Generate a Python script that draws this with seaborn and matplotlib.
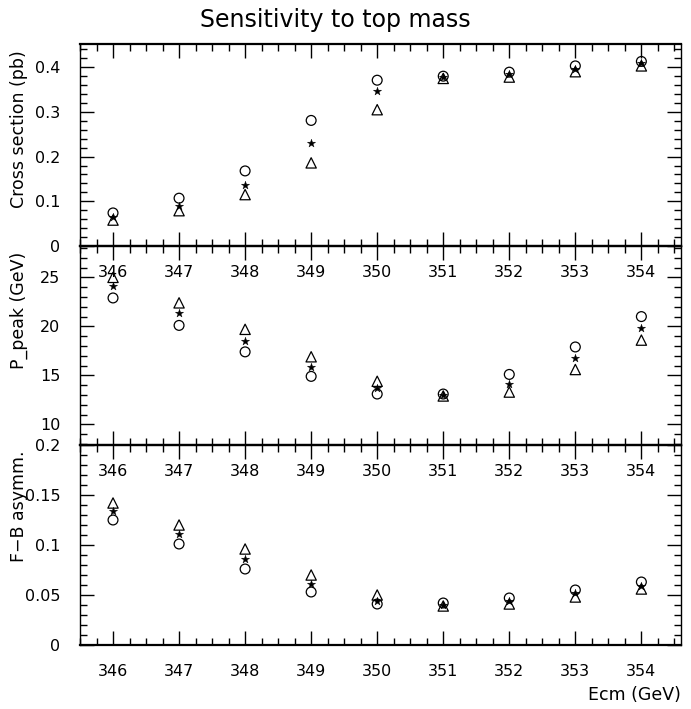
import numpy as np
import pandas as pd
import matplotlib
matplotlib.use("Agg")
import matplotlib.pyplot as plt
import seaborn as sns
from matplotlib.ticker import MultipleLocator

# ---- data ----
ecm = [346, 347, 348, 349, 350, 351, 352, 353, 354]

xsec_circle = [0.074, 0.107, 0.168, 0.281, 0.371, 0.380, 0.389, 0.403, 0.413]
xsec_star = [0.066, 0.089, 0.137, 0.230, 0.347, 0.378, 0.384, 0.396, 0.409]
xsec_triangle = [0.058, 0.079, 0.115, 0.186, 0.305, 0.375, 0.378, 0.390, 0.403]

ppeak_circle = [22.9, 20.1, 17.4, 14.9, 13.1, 13.1, 15.1, 17.9, 21.0]
ppeak_star = [24.1, 21.4, 18.5, 15.9, 13.7, 13.0, 14.1, 16.8, 19.8]
ppeak_triangle = [25.0, 22.4, 19.7, 16.9, 14.4, 12.9, 13.3, 15.6, 18.6]

afb_circle = [0.125, 0.101, 0.076, 0.053, 0.041, 0.042, 0.047, 0.055, 0.063]
afb_star = [0.134, 0.111, 0.086, 0.061, 0.044, 0.040, 0.044, 0.052, 0.059]
afb_triangle = [0.142, 0.120, 0.096, 0.070, 0.050, 0.039, 0.041, 0.048, 0.056]

title = "Sensitivity to top mass"
ylabels = ["Cross section (pb)", "P_peak (GeV)", "F\u2212B asymm."]
xlabel = "Ecm (GeV)"
xsec_ticks = [0, 0.1, 0.2, 0.3, 0.4]
xsec_ticklabels = ["0", "0.1", "0.2", "0.3", "0.4"]
ppeak_ticks = [10, 15, 20, 25]
ppeak_ticklabels = ["10", "15", "20", "25"]
afb_ticks = [0, 0.05, 0.1, 0.15, 0.2]
afb_ticklabels = ["0", "0.05", "0.1", "0.15", "0.2"]

# ---- style ----
sns.set_style("ticks")
plt.rcParams["font.family"] = ["DejaVu Sans"]
plt.rcParams["text.color"] = "black"
plt.rcParams["axes.labelcolor"] = "black"
plt.rcParams["xtick.color"] = "black"
plt.rcParams["ytick.color"] = "black"

fig = plt.figure(figsize=(6.91, 7.09), dpi=100)
gs = fig.add_gridspec(3, 1, left=80/691, right=681/691, top=1-44/709, bottom=1-645/709,
                      hspace=0, height_ratios=[202, 199, 200])
axes = [fig.add_subplot(gs[i]) for i in range(3)]

panels = [
    (xsec_circle, xsec_star, xsec_triangle, (0, 0.452), 0.02, xsec_ticks, xsec_ticklabels),
    (ppeak_circle, ppeak_star, ppeak_triangle, (7.9, 28.2), 1, ppeak_ticks, ppeak_ticklabels),
    (afb_circle, afb_star, afb_triangle, (0, 0.2), 0.01, afb_ticks, afb_ticklabels),
]

for ax, (c, s, t, ylim, mnr, ticks, ticklabels) in zip(axes, panels):
    ax.set_facecolor("none")
    df = pd.DataFrame({"ecm": ecm, "circle": c, "star": s, "triangle": t})
    sns.scatterplot(data=df, x="ecm", y="circle", ax=ax, marker="o", s=50,
                    facecolors="none", edgecolors="black", linewidths=0.9, zorder=3)
    sns.scatterplot(data=df, x="ecm", y="star", ax=ax, marker="*", s=38,
                    color="black", edgecolor="black", linewidth=0.3, zorder=4)
    sns.scatterplot(data=df, x="ecm", y="triangle", ax=ax, marker="^", s=55,
                    facecolors="none", edgecolors="black", linewidths=0.9, zorder=3)
    ax.set_xlim(345.5, 354.6)
    ax.set_ylim(*ylim)
    ax.xaxis.set_major_locator(MultipleLocator(1))
    ax.xaxis.set_minor_locator(MultipleLocator(0.25))
    ax.set_yticks(ticks)
    ax.set_yticklabels(ticklabels)
    ax.yaxis.set_minor_locator(MultipleLocator(mnr))
    ax.tick_params(which="both", direction="in", top=True, right=True, bottom=True, left=True,
                   labelsize=11.5, width=1.0, color="black", labelcolor="black")
    ax.tick_params(which="major", length=10)
    ax.tick_params(which="minor", length=5)
    ax.tick_params(axis="x", which="major", pad=14)
    ax.tick_params(axis="y", which="major", pad=14)
    for sp in ax.spines.values():
        sp.set_linewidth(1.0)
        sp.set_color("black")
    ax.spines["top"].set_linewidth(1.6)
    ax.spines["bottom"].set_linewidth(1.6)
    ax.set_xlabel("")

for ax, lab in zip(axes, ylabels):
    ax.set_ylabel(lab, fontsize=12.5, loc="top", color="black")
    ax.yaxis.set_label_coords(-0.087, 0.97)

axes[2].set_xlabel(xlabel, fontsize=12.5, loc="right", labelpad=5, color="black")

fig.text(0.485, 1 - 20/709, title, ha="center", va="center", fontsize=17, color="black")

fig.savefig("out.png", dpi=100, facecolor="white")
